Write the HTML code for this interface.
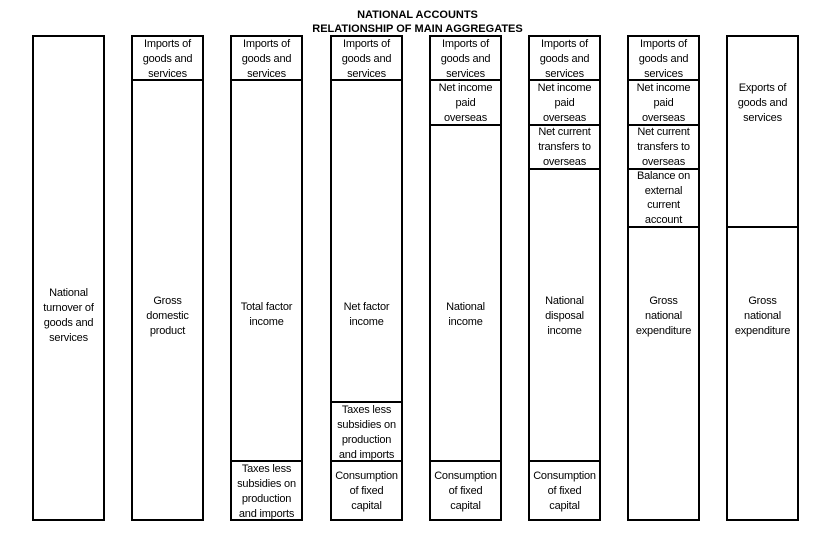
<!DOCTYPE html>
<html><head><meta charset="utf-8"><style>
body{margin:0;width:835px;height:536px;background:#fff;position:relative;overflow:hidden;font-family:"Liberation Sans",Arial,sans-serif;color:#000}
.c{position:absolute;box-sizing:border-box;border:2px solid #000;width:73px}
.t{position:absolute;width:73px;text-align:center;font-size:11px;line-height:15px;margin-top:1px;letter-spacing:-0.2px}
.h{position:absolute;left:0;width:835px;text-align:center;font-size:11px;font-weight:bold;line-height:14px}
</style></head><body>
<div class="h" style="top:8px">NATIONAL ACCOUNTS</div>
<div class="h" style="top:22px">RELATIONSHIP OF MAIN AGGREGATES</div>

<!-- col1 -->
<div class="c" style="left:32px;top:35px;height:486px"></div>
<div class="t" style="left:32px;top:285px">National<br>turnover of<br>goods and<br>services</div>

<!-- col2 -->
<div class="c" style="left:131px;top:35px;height:46px"></div>
<div class="c" style="left:131px;top:79px;height:442px"></div>
<div class="t" style="left:131px;top:36px">Imports of<br>goods and<br>services</div>
<div class="t" style="left:131px;top:293px">Gross<br>domestic<br>product</div>

<!-- col3 -->
<div class="c" style="left:230px;top:35px;height:46px"></div>
<div class="c" style="left:230px;top:79px;height:383px"></div>
<div class="c" style="left:230px;top:460px;height:61px"></div>
<div class="t" style="left:230px;top:36px">Imports of<br>goods and<br>services</div>
<div class="t" style="left:230px;top:299px">Total factor<br>income</div>
<div class="t" style="left:230px;top:461px">Taxes less<br>subsidies on<br>production<br>and imports</div>

<!-- col4 -->
<div class="c" style="left:330px;top:35px;height:46px"></div>
<div class="c" style="left:330px;top:79px;height:324px"></div>
<div class="c" style="left:330px;top:401px;height:61px"></div>
<div class="c" style="left:330px;top:460px;height:61px"></div>
<div class="t" style="left:330px;top:36px">Imports of<br>goods and<br>services</div>
<div class="t" style="left:330px;top:299px">Net factor<br>income</div>
<div class="t" style="left:330px;top:402px">Taxes less<br>subsidies on<br>production<br>and imports</div>
<div class="t" style="left:330px;top:468px">Consumption<br>of fixed<br>capital</div>

<!-- col5 -->
<div class="c" style="left:429px;top:35px;height:46px"></div>
<div class="c" style="left:429px;top:79px;height:47px"></div>
<div class="c" style="left:429px;top:124px;height:338px"></div>
<div class="c" style="left:429px;top:460px;height:61px"></div>
<div class="t" style="left:429px;top:36px">Imports of<br>goods and<br>services</div>
<div class="t" style="left:429px;top:80px">Net income<br>paid<br>overseas</div>
<div class="t" style="left:429px;top:299px">National<br>income</div>
<div class="t" style="left:429px;top:468px">Consumption<br>of fixed<br>capital</div>

<!-- col6 -->
<div class="c" style="left:528px;top:35px;height:46px"></div>
<div class="c" style="left:528px;top:79px;height:47px"></div>
<div class="c" style="left:528px;top:124px;height:46px"></div>
<div class="c" style="left:528px;top:168px;height:294px"></div>
<div class="c" style="left:528px;top:460px;height:61px"></div>
<div class="t" style="left:528px;top:36px">Imports of<br>goods and<br>services</div>
<div class="t" style="left:528px;top:80px">Net income<br>paid<br>overseas</div>
<div class="t" style="left:528px;top:124px">Net current<br>transfers to<br>overseas</div>
<div class="t" style="left:528px;top:293px">National<br>disposal<br>income</div>
<div class="t" style="left:528px;top:468px">Consumption<br>of fixed<br>capital</div>

<!-- col7 -->
<div class="c" style="left:627px;top:35px;height:46px"></div>
<div class="c" style="left:627px;top:79px;height:47px"></div>
<div class="c" style="left:627px;top:124px;height:46px"></div>
<div class="c" style="left:627px;top:168px;height:60px"></div>
<div class="c" style="left:627px;top:226px;height:295px"></div>
<div class="t" style="left:627px;top:36px">Imports of<br>goods and<br>services</div>
<div class="t" style="left:627px;top:80px">Net income<br>paid<br>overseas</div>
<div class="t" style="left:627px;top:124px">Net current<br>transfers to<br>overseas</div>
<div class="t" style="left:627px;top:168px;line-height:14.6px">Balance on<br>external<br>current<br>account</div>
<div class="t" style="left:627px;top:293px">Gross<br>national<br>expenditure</div>

<!-- col8 -->
<div class="c" style="left:726px;top:35px;height:193px"></div>
<div class="c" style="left:726px;top:226px;height:295px"></div>
<div class="t" style="left:726px;top:80px">Exports of<br>goods and<br>services</div>
<div class="t" style="left:726px;top:293px">Gross<br>national<br>expenditure</div>
</body></html>
